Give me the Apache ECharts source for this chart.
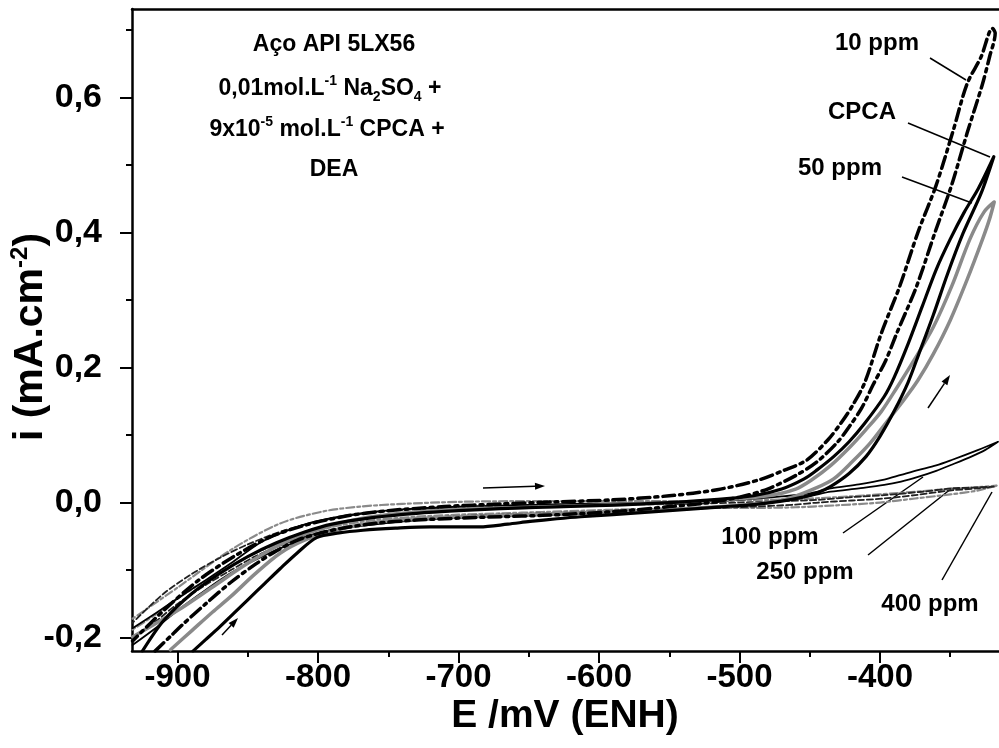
<!DOCTYPE html>
<html><head><meta charset="utf-8">
<script src="https://cdn.jsdelivr.net/npm/echarts@6/dist/echarts.min.js"></script>
<style>html,body{margin:0;padding:0;background:#fff}#c{width:999px;height:748px}</style>
</head><body><div id="c"></div>
<script>
// ---- axis ticks ----
const xMajor = [-900, -800, -700, -600, -500, -400];
const xMinor = [-850, -750, -650, -550, -450, -350];
const yMajor = [-0.2, 0, 0.2, 0.4, 0.6];
const yMinor = [-0.1, 0.1, 0.3, 0.5, 0.7];

// ---- CPCA (black solid) ----
const cpcaE = [-889,-880,-870,-860,-850,-838,-827,-815,-801,-785,-768,-745,-720,-700,-685,-665,-649,-630,-613,-590,-570,-550,-530,-510,-490,-470,-455,-445,-435,-422,-410,-400,-390,-380,-372,-362,-352,-341,-328,-319,
  -330,-340,-350,-360,-370,-380,-390,-397,-411,-422,-433,-445,-454,-470,-490,-520,-550,-580,-610,-640,-670,-700,-730,-760,-790,-810,-830,-850,-870,-890,-910,-925];
const cpcaI = [-0.220,-0.203,-0.184,-0.164,-0.144,-0.120,-0.098,-0.075,-0.052,-0.045,-0.041,-0.038,-0.036,-0.036,-0.036,-0.032,-0.028,-0.024,-0.021,-0.018,-0.015,-0.012,-0.009,-0.006,-0.003,0.002,0.008,0.014,0.024,0.043,0.068,0.098,0.135,0.178,0.222,0.278,0.338,0.398,0.458,0.512,
  0.465,0.430,0.390,0.345,0.290,0.235,0.185,0.157,0.117,0.090,0.068,0.048,0.035,0.020,0.010,0.004,0.000,-0.003,-0.005,-0.007,-0.009,-0.012,-0.016,-0.022,-0.032,-0.044,-0.060,-0.080,-0.105,-0.135,-0.175,-0.220];

// ---- 10 ppm (black dash-dot) ----
const p10E = [-916,-905,-895,-880,-862,-845,-830,-815,-800,-780,-760,-730,-700,-670,-640,-610,-580,-550,-525,-500,-480,-460,-445,-430,-421,-413,-405,-396,-388,-374,-361,-349,-338,-327,-322,-318,
  -320,-328,-338,-348,-360,-373,-386,-399,-411,-420,-428,-437,-452,-468,-487,-516,-550,-590,-630,-670,-710,-750,-780,-810,-835,-860,-885,-910,-932];
const p10I = [-0.220,-0.198,-0.178,-0.150,-0.118,-0.092,-0.072,-0.056,-0.046,-0.037,-0.031,-0.026,-0.023,-0.021,-0.019,-0.016,-0.012,-0.006,-0.001,0.008,0.020,0.040,0.060,0.090,0.115,0.140,0.174,0.210,0.251,0.320,0.399,0.470,0.547,0.620,0.660,0.695,
  0.702,0.660,0.620,0.550,0.470,0.400,0.320,0.251,0.177,0.142,0.117,0.093,0.063,0.048,0.033,0.019,0.010,0.004,0.001,-0.002,-0.006,-0.012,-0.020,-0.034,-0.052,-0.080,-0.115,-0.160,-0.205];

// ---- 50 ppm (grey solid) ----
const p50E = [-905,-890,-875,-862,-845,-827,-810,-791,-770,-744,-710,-680,-650,-620,-590,-560,-530,-500,-480,-465,-445,-433,-420,-407,-395,-383,-373,-362,-350,-338,-327,-322,-318.7,
  -326,-336,-349,-362,-376,-388,-399,-410,-421,-435,-449,-460,-480,-510,-550,-600,-650,-700,-740,-770,-800,-825,-850,-875,-900,-932];
const p50I = [-0.218,-0.190,-0.162,-0.139,-0.106,-0.075,-0.056,-0.043,-0.033,-0.026,-0.022,-0.020,-0.018,-0.016,-0.014,-0.011,-0.008,-0.004,0.000,0.006,0.022,0.035,0.060,0.088,0.120,0.152,0.181,0.220,0.270,0.330,0.390,0.420,0.445,
  0.430,0.390,0.320,0.260,0.210,0.170,0.135,0.108,0.083,0.055,0.033,0.020,0.010,0.004,0.000,-0.004,-0.007,-0.010,-0.016,-0.024,-0.040,-0.060,-0.090,-0.125,-0.160,-0.199];

// ---- 100 ppm (black thin) ----
const p100E = [-932,-915,-900,-885,-870,-855,-840,-820,-800,-780,-750,-720,-690,-660,-630,-600,-570,-540,-510,-480,-460,-449,-435,-415,-397,-385,-373,-360,-349,-335,-325,-316,
  -330,-349,-360,-373,-385,-397,-415,-435,-449,-470,-500,-540,-580,-620,-660,-700,-740,-770,-800,-820,-840,-862,-880,-900,-915,-932];
const p100I = [-0.211,-0.185,-0.160,-0.137,-0.115,-0.096,-0.080,-0.062,-0.048,-0.038,-0.030,-0.025,-0.022,-0.020,-0.018,-0.016,-0.013,-0.010,-0.006,0.000,0.006,0.010,0.016,0.021,0.026,0.031,0.038,0.047,0.056,0.068,0.078,0.090,
  0.078,0.063,0.055,0.048,0.041,0.034,0.027,0.021,0.014,0.009,0.004,0.001,-0.001,-0.002,-0.004,-0.006,-0.010,-0.016,-0.027,-0.040,-0.058,-0.090,-0.115,-0.142,-0.163,-0.186];

// ---- 250 ppm (black dashed) ----
const p250E = [-932,-915,-900,-880,-862,-845,-825,-805,-785,-760,-730,-700,-670,-640,-610,-580,-550,-520,-490,-460,-444,-420,-397,-375,-349,-330,-319,
  -335,-349,-370,-397,-420,-444,-470,-500,-540,-580,-620,-660,-700,-740,-770,-800,-825,-850,-870,-890,-910,-932];
const p250I = [-0.200,-0.175,-0.150,-0.122,-0.100,-0.080,-0.062,-0.048,-0.038,-0.030,-0.024,-0.020,-0.018,-0.016,-0.014,-0.012,-0.010,-0.008,-0.006,-0.003,0.000,0.003,0.006,0.011,0.018,0.021,0.0235,
  0.022,0.021,0.016,0.011,0.008,0.004,0.002,0.000,-0.002,-0.003,-0.004,-0.005,-0.007,-0.011,-0.017,-0.028,-0.042,-0.062,-0.082,-0.106,-0.135,-0.178];

// ---- 400 ppm (grey dotted) ----
const p400E = [-932,-915,-900,-880,-862,-845,-825,-805,-785,-760,-730,-700,-670,-640,-610,-580,-550,-520,-490,-460,-430,-400,-375,-350,-330,-317,
  -335,-350,-375,-400,-430,-460,-500,-540,-580,-620,-660,-700,-740,-770,-796,-827,-862,-900,-932];
const p400I = [-0.188,-0.165,-0.142,-0.116,-0.094,-0.075,-0.058,-0.044,-0.034,-0.026,-0.021,-0.018,-0.016,-0.014,-0.012,-0.010,-0.009,-0.008,-0.008,-0.007,-0.004,0.000,0.006,0.012,0.018,0.025,
  0.022,0.020,0.016,0.012,0.008,0.005,0.003,0.002,0.002,0.002,0.002,0.001,-0.002,-0.006,-0.013,-0.031,-0.070,-0.126,-0.172];

const zip = (a, b) => a.map((v, i) => [v, b[i]]);

const FONT = '"Liberation Sans", Arial, Helvetica, sans-serif';
const chart = echarts.init(document.getElementById('c'), null, {renderer: 'canvas'});

function line(name, E, I, color, width, type) {
  return {
    name, type: 'line', xAxisIndex: 0, yAxisIndex: 0, data: zip(E, I),
    showSymbol: false, symbol: 'none', smooth: 0.3, animation: false, clip: true,
    lineStyle: {color, width, type, cap: 'round', join: 'round'}
  };
}

const txt = (x, y, str, size, align) => ({
  type: 'text', x, y, silent: true,
  style: {
    text: str, fontFamily: FONT, fontWeight: 'bold', fontSize: size, fill: '#000',
    align: align || 'center', verticalAlign: 'middle',
    rich: {
      n: {fontFamily: FONT, fontWeight: 'bold', fontSize: size, lineHeight: 30, verticalAlign: 'middle'},
      sup: {fontFamily: FONT, fontWeight: 'bold', fontSize: Math.round(size * 0.6), lineHeight: 30, verticalAlign: 'top'},
      sub: {fontFamily: FONT, fontWeight: 'bold', fontSize: Math.round(size * 0.6), lineHeight: 30, verticalAlign: 'bottom'}
    }
  }
});
const seg = (x1, y1, x2, y2, w) => ({
  type: 'line', silent: true, shape: {x1, y1, x2, y2}, style: {stroke: '#000', lineWidth: w || 1.5}
});
function arrow(x1, y1, x2, y2) {
  const a = Math.atan2(y2 - y1, x2 - x1), L = 10, W = 3.5;
  const bx = x2 - L * Math.cos(a), by = y2 - L * Math.sin(a);
  const px = -Math.sin(a) * W, py = Math.cos(a) * W;
  return [
    seg(x1, y1, bx, by, 1.5),
    {type: 'polygon', silent: true, shape: {points: [[x2, y2], [bx + px, by + py], [bx - px, by - py]]}, style: {fill: '#000'}}
  ];
}

const xRange = {min: -932.4, max: -315.3};
const yRange = {min: -0.2198, max: 0.7307};
const labelFmt = v => (Math.round(v * 10) / 10).toFixed(1).replace('.', ',');

const option = {
  backgroundColor: '#fff',
  animation: false,
  grid: {left: 132, right: 0, top: 9, bottom: 97, containLabel: false},
  xAxis: [
    {type: 'value', ...xRange, position: 'bottom',
     axisLine: {show: true, onZero: false, lineStyle: {color: '#000', width: 2.5}},
     axisTick: {show: true, length: 12, lineStyle: {color: '#000', width: 2}, customValues: xMajor},
     axisLabel: {show: true, customValues: xMajor, margin: 10, color: '#000', fontFamily: FONT, fontWeight: 'bold', fontSize: 33},
     splitLine: {show: false}},
    {type: 'value', ...xRange, position: 'bottom',
     axisLine: {show: false, onZero: false},
     axisTick: {show: true, length: 6, lineStyle: {color: '#000', width: 2}, customValues: xMinor},
     axisLabel: {show: false}, splitLine: {show: false}},
    {type: 'value', ...xRange, position: 'top',
     axisLine: {show: true, onZero: false, lineStyle: {color: '#000', width: 2.5}},
     axisTick: {show: false}, axisLabel: {show: false}, splitLine: {show: false}}
  ],
  yAxis: [
    {type: 'value', ...yRange, position: 'left',
     axisLine: {show: true, onZero: false, lineStyle: {color: '#000', width: 2.5}},
     axisTick: {show: true, length: 12, lineStyle: {color: '#000', width: 2}, customValues: yMajor},
     axisLabel: {show: true, customValues: yMajor, margin: 30, color: '#000', fontFamily: FONT, fontWeight: 'bold', fontSize: 34, formatter: labelFmt},
     splitLine: {show: false}},
    {type: 'value', ...yRange, position: 'left',
     axisLine: {show: false, onZero: false},
     axisTick: {show: true, length: 6, lineStyle: {color: '#000', width: 2}, customValues: yMinor},
     axisLabel: {show: false}, splitLine: {show: false}}
  ],
  series: [
    line('400 ppm', p400E, p400I, '#8a8a8a', 2.2, [3, 3, 8, 3]),
    line('250 ppm', p250E, p250I, '#222', 1.8, [6, 3]),
    line('100 ppm', p100E, p100I, '#000', 1.8, 'solid'),
    line('50 ppm', p50E, p50I, '#8a8a8a', 3.5, 'solid'),
    line('CPCA', cpcaE, cpcaI, '#000', 3.2, 'solid'),
    line('10 ppm', p10E, p10I, '#000', 3.5, [12, 5, 3, 5])
  ],
  graphic: [
    txt(334, 45, 'Aço API 5LX56', 23),
    txt(330, 89, '{n|0,01mol.L}{sup|-1}{n| Na}{sub|2}{n|SO}{sub|4}{n| +}', 23),
    txt(327, 130, '{n|9x10}{sup|-5}{n| mol.L}{sup|-1}{n| CPCA +}', 23),
    txt(334, 170, 'DEA', 23),
    txt(877, 43, '10 ppm', 24),
    txt(862, 112, 'CPCA', 24),
    txt(840, 168, '50 ppm', 24),
    txt(770, 537, '100 ppm', 24),
    txt(805, 572, '250 ppm', 24),
    txt(930, 604, '400 ppm', 24),
    seg(930, 58, 966, 80), seg(908, 123, 990, 157), seg(902, 177, 972, 203),
    seg(843, 533, 923, 477), seg(868, 555, 952, 488), seg(942, 580, 992, 492),
    ...arrow(222, 635, 238, 618), ...arrow(483, 488, 545, 486), ...arrow(928, 408, 950, 375),
    txt(565, 716, 'E /mV (ENH)', 39),
    {type: 'text', x: 31, y: 337, rotation: Math.PI / 2, silent: true,
     style: {text: '{n|i (mA.cm}{sup|-2}{n|)}', fill: '#000', align: 'center', verticalAlign: 'middle',
       rich: {
         n: {fontFamily: FONT, fontWeight: 'bold', fontSize: 41, lineHeight: 46, verticalAlign: 'middle'},
         sup: {fontFamily: FONT, fontWeight: 'bold', fontSize: 24, lineHeight: 46, verticalAlign: 'top'}
       }}}
  ]
};
chart.setOption(option);
</script></body></html>
